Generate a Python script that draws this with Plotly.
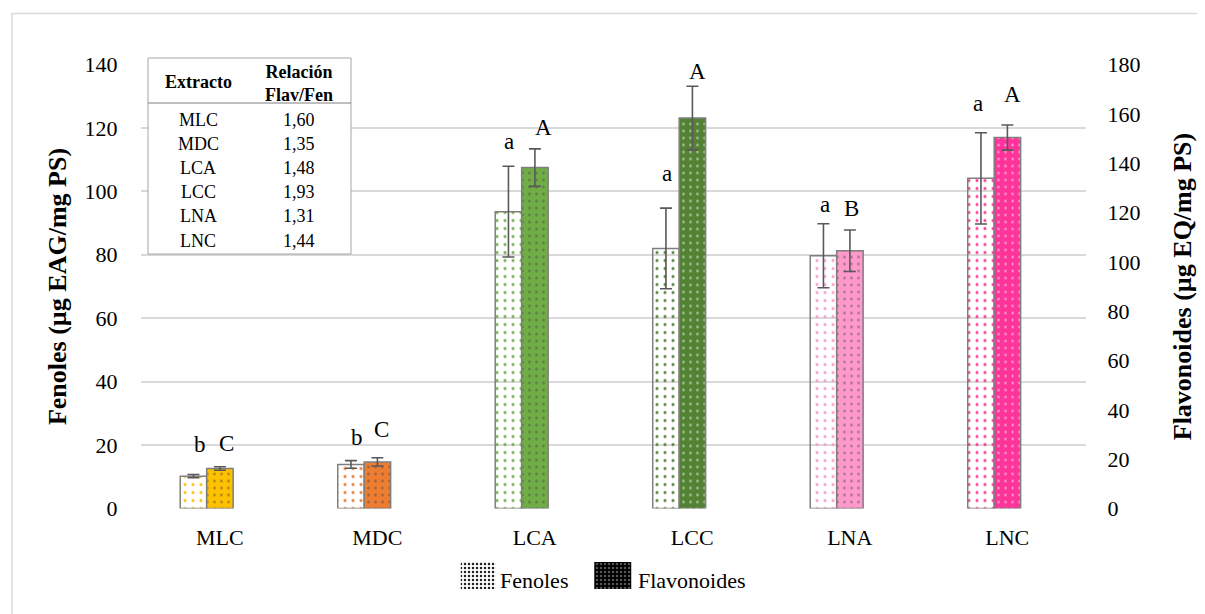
import plotly.graph_objects as go

# ---------------- data ----------------
extracts = ["MLC", "MDC", "LCA", "LCC", "LNA", "LNC"]
fenoles = [10.2, 13.9, 93.6, 82.0, 79.7, 104.1]          # µg EAG/mg PS (left axis)
fenoles_err = [0.5, 1.2, 14.3, 12.7, 10.1, 14.4]
flavonoides = [16.2, 18.9, 138.2, 158.3, 104.5, 150.4]   # µg EQ/mg PS (right axis)
flavonoides_err = [0.7, 1.7, 7.6, 12.9, 8.4, 5.1]
fen_letters = ["b", "b", "a", "a", "a", "a"]
flav_letters = ["C", "C", "A", "A", "B", "A"]
ratio_labels = ["1,60", "1,35", "1,48", "1,93", "1,31", "1,44"]
series_names = ["Fenoles", "Flavonoides"]
colors = ["#FFC000", "#ED7D31", "#70AD47", "#548235", "#FF99CC", "#FF3399"]

# ---------------- layout geometry ----------------
OFF = 8                       # default page body margin
W, H = 1205 - OFF, 614 - OFF
PL, PR, PT, PB = 141, 1086, 64.5, 508.5   # plot area in screenshot pixels
FONT = "Liberation Serif, Times New Roman, serif"
GRID = "#D9D9D9"


def fx(p):
    return (p - OFF) / W


def fy(p):
    return 1 - (p - OFF) / H


BW = 0.168
OFF_FEN = -0.251
OFF_FLAV = OFF_FEN + BW

fig = go.Figure()

fig.add_trace(go.Bar(
    x=extracts, y=fenoles, name=series_names[0], xaxis="x", yaxis="y",
    width=BW, offset=OFF_FEN,
    marker=dict(color=colors, line=dict(color="#7F7F7F", width=1.5),
                pattern=dict(shape=".", fgcolor=colors, bgcolor="white",
                             size=8, solidity=0.12, fillmode="replace")),
    error_y=dict(type="data", array=fenoles_err, color="#595959", thickness=1.6, width=6),
    showlegend=False,
))
fig.add_trace(go.Bar(
    x=extracts, y=flavonoides, name=series_names[1], xaxis="x", yaxis="y2",
    width=BW, offset=OFF_FLAV,
    marker=dict(color=colors, line=dict(color="#7F7F7F", width=1.5),
                pattern=dict(shape=".", fgcolor="white", size=7, solidity=0.12,
                             fillmode="overlay")),
    error_y=dict(type="data", array=flavonoides_err, color="#595959", thickness=1.6, width=6),
    showlegend=False,
))

# custom legend swatches (own small axis so they can be large and patterned)
fig.add_trace(go.Bar(
    x=[series_names[0]], y=[1], xaxis="x3", yaxis="y3", width=0.26, showlegend=False,
    hoverinfo="skip",
    marker=dict(color="black", line=dict(width=0),
                pattern=dict(shape=".", fgcolor="#222222", bgcolor="white", size=4,
                             solidity=0.3, fillmode="replace")),
))
fig.add_trace(go.Bar(
    x=[series_names[1]], y=[1], xaxis="x3", yaxis="y3", width=0.275, showlegend=False,
    hoverinfo="skip",
    marker=dict(color="black", line=dict(width=0),
                pattern=dict(shape=".", fgcolor="#AAAAAA", size=4, solidity=0.3,
                             fillmode="overlay")),
))

# significance letters
fen_gap = [30, 23, 25, 35, 19, 29]
flav_gap = [23, 28, 21, 15, 22, 30]
fen_dx = [7, 6, 1, 1, 2, -3]
flav_dx = [7, 4, 9, 5, 2, 5]
annotations = []
for i in range(len(extracts)):
    annotations.append(dict(
        x=i + OFF_FEN + BW / 2, y=fenoles[i] + fenoles_err[i], xref="x", yref="y",
        text=fen_letters[i], showarrow=False, yshift=fen_gap[i], xshift=fen_dx[i],
        xanchor="center", yanchor="middle",
        font=dict(family=FONT, size=23, color="black")))
    annotations.append(dict(
        x=i + OFF_FLAV + BW / 2, y=flavonoides[i] + flavonoides_err[i], xref="x", yref="y2",
        text=flav_letters[i], showarrow=False, yshift=flav_gap[i], xshift=flav_dx[i],
        xanchor="center", yanchor="middle",
        font=dict(family=FONT, size=23, color="black")))

# legend labels
annotations.append(dict(xref="paper", yref="paper", x=fx(498), y=fy(580), text=series_names[0],
                        showarrow=False, xanchor="left", yanchor="middle",
                        font=dict(family=FONT, size=22, color="black")))
annotations.append(dict(xref="paper", yref="paper", x=fx(636), y=fy(580), text=series_names[1],
                        showarrow=False, xanchor="left", yanchor="middle",
                        font=dict(family=FONT, size=22, color="black")))

# inset table
TX0, TX1, TY0, TY1 = 148, 351, 58, 254
shapes = [
    dict(type="rect", xref="paper", yref="paper", x0=fx(TX0), x1=fx(TX1),
         y0=fy(TY1), y1=fy(TY0), fillcolor="white",
         line=dict(color="#A6A6A6", width=1), layer="above"),
    dict(type="line", xref="paper", yref="paper", x0=fx(TX0), x1=fx(TX1),
         y0=fy(103), y1=fy(103), line=dict(color="#7F7F7F", width=1), layer="above"),
    # outer chart border
    dict(type="rect", xref="paper", yref="paper", x0=fx(12), x1=fx(1300),
         y0=fy(700), y1=fy(13.5), line=dict(color="#D9D9D9", width=1.5),
         fillcolor="rgba(0,0,0,0)", layer="below"),
]
COL1, COL2 = 198, 299
annotations.append(dict(xref="paper", yref="paper", x=fx(COL1), y=fy(82),
                        text="<b>Extracto</b>", showarrow=False, xanchor="center", yanchor="middle",
                        font=dict(family=FONT, size=18, color="black")))
annotations.append(dict(xref="paper", yref="paper", x=fx(COL2), y=fy(83),
                        text="<b>Relación<br>Flav/Fen</b>", showarrow=False,
                        xanchor="center", yanchor="middle",
                        font=dict(family=FONT, size=18, color="black")))
for k, (e, r) in enumerate(zip(extracts, ratio_labels)):
    yy = 120 + k * 24.1
    annotations.append(dict(xref="paper", yref="paper", x=fx(COL1), y=fy(yy), text=e,
                            showarrow=False, xanchor="center", yanchor="middle",
                            font=dict(family=FONT, size=18, color="black")))
    annotations.append(dict(xref="paper", yref="paper", x=fx(COL2), y=fy(yy), text=r,
                            showarrow=False, xanchor="center", yanchor="middle",
                            font=dict(family=FONT, size=18, color="black")))

fig.update_layout(
    width=W, height=H,
    margin=dict(l=0, r=0, t=0, b=0, autoexpand=False),
    paper_bgcolor="white", plot_bgcolor="white",
    barmode="overlay", showlegend=False,
    font=dict(family=FONT, size=23, color="black"),
    xaxis=dict(domain=[fx(PL), fx(PR)], range=[-0.5, 5.5], showgrid=False, showline=False,
               zeroline=False, ticks="outside", ticklen=9, tickcolor="rgba(0,0,0,0)",
               tickfont=dict(family=FONT, size=22), fixedrange=True),
    yaxis=dict(domain=[fy(PB), fy(PT)], range=[0, 140], dtick=20, showgrid=True,
               gridcolor=GRID, gridwidth=1.5,
               zeroline=False, showline=False, ticks="outside", ticklen=18,
               tickcolor="rgba(0,0,0,0)", tickfont=dict(family=FONT, size=22),
               title=dict(text="<b>Fenoles (µg EAG/mg PS)</b>", standoff=10,
                          font=dict(family=FONT, size=26))),
    yaxis2=dict(range=[0, 180], dtick=20, overlaying="y", side="right", anchor="x",
                showgrid=False, zeroline=False, showline=False, ticks="outside", ticklen=16,
                tickcolor="rgba(0,0,0,0)", tickfont=dict(family=FONT, size=22),
                title=dict(text="<b>Flavonoides (µg EQ/mg PS)</b>", standoff=33,
                           font=dict(family=FONT, size=26))),
    xaxis3=dict(domain=[fx(411), fx(680)], range=[-0.5, 1.5], type="category",
                categoryarray=series_names, categoryorder="array",
                visible=False, anchor="y3", fixedrange=True),
    yaxis3=dict(domain=[fy(589), fy(562)], range=[0, 1], visible=False, anchor="x3",
                fixedrange=True),
    annotations=annotations,
    shapes=shapes,
)

fig.write_html("out.html")
